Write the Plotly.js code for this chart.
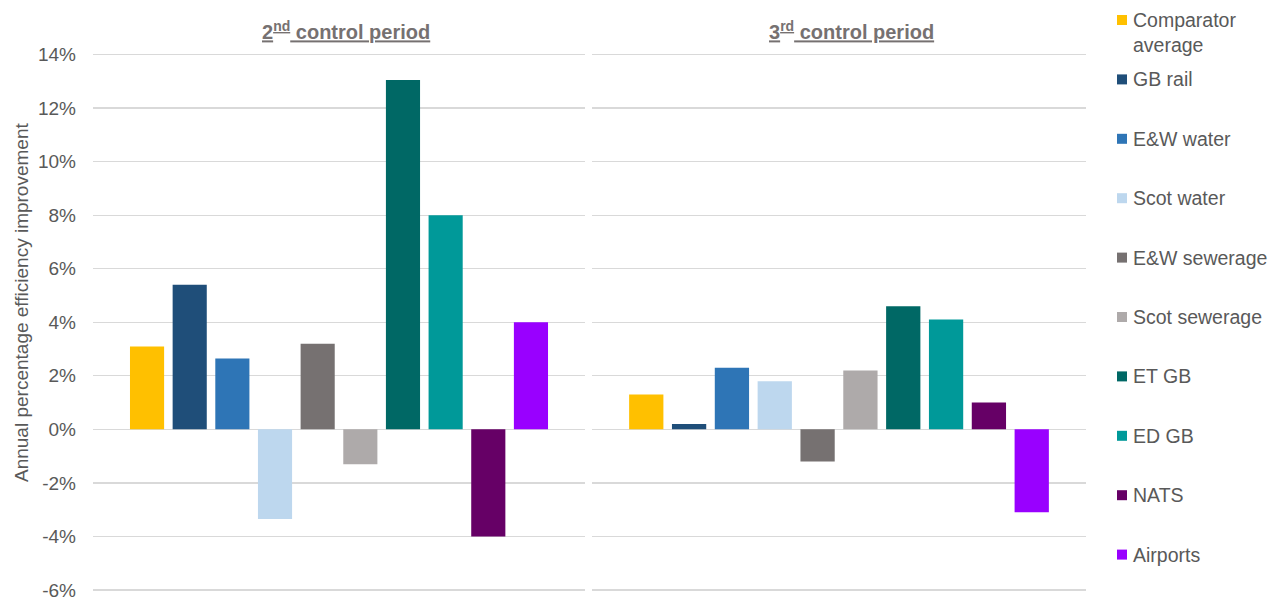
<!DOCTYPE html>
<html>
<head>
<meta charset="utf-8">
<script src="https://cdn.plot.ly/plotly-3.0.1.min.js"></script>
<style>
  html, body { margin: 0; padding: 0; background: #ffffff; }
  #chart { width: 1271px; height: 597px; }
</style>
</head>
<body>
<div id="chart"></div>
<script>
// Control periods shown as two side-by-side panels
const periods = ['2<sup>nd</sup> control period', '3<sup>rd</sup> control period'];

// Comparator series (legend order)
const series = [
  'Comparator<br>average', 'GB rail', 'E&W water', 'Scot water', 'E&W sewerage',
  'Scot sewerage', 'ET GB', 'ED GB', 'NATS', 'Airports'
];

const seriesColors = [
  '#FFC000', '#1F4E79', '#2E75B6', '#BDD7EE', '#767171',
  '#AEAAAA', '#006865', '#009999', '#660066', '#9900FF'
];

// Annual percentage efficiency improvement (%)
const cp2Values = [3.1, 5.4, 2.65, -3.35, 3.2, -1.3, 13.05, 8.0, -4.0, 4.0];
const cp3Values = [1.3, 0.2, 2.3, 1.8, -1.2, 2.2, 4.6, 4.1, 1.0, -3.1];

const yTickValues = [-6, -4, -2, 0, 2, 4, 6, 8, 10, 12, 14];
const yTickLabels = yTickValues.map(v => v + '%');

// ---- page geometry (pixels) ----
const W = 1271, H = 597;
const M = { l: 93, r: 185, t: 52, b: 5 };
const plotW = W - M.l - M.r, plotH = H - M.t - M.b;
const px = x => (x - M.l) / plotW;          // pixel x -> paper x
const py = y => (H - M.b - y) / plotH;      // pixel y -> paper y

const textGrey = '#595959';
const fontFamily = '"Liberation Sans", Arial, sans-serif';

const traces = [];
series.forEach((name, i) => {
  traces.push({
    type: 'bar', name: name, x: [periods[0]], y: [cp2Values[i]],
    xaxis: 'x', yaxis: 'y', marker: { color: seriesColors[i] },
    showlegend: false, hoverinfo: 'name+y'
  });
});
series.forEach((name, i) => {
  traces.push({
    type: 'bar', name: name, x: [periods[1]], y: [cp3Values[i]],
    xaxis: 'x2', yaxis: 'y', marker: { color: seriesColors[i] },
    showlegend: false, hoverinfo: 'name+y'
  });
});

// Panel headings, axis title and the side key
const annotations = [
  {
    xref: 'paper', yref: 'paper', x: px(346), y: py(30),
    xanchor: 'center', yanchor: 'middle', showarrow: false,
    text: '<b><u>' + periods[0] + '</u></b>',
    font: { family: fontFamily, size: 20, color: '#767171' }
  },
  {
    xref: 'paper', yref: 'paper', x: px(851), y: py(30),
    xanchor: 'center', yanchor: 'middle', showarrow: false,
    text: '<b><u>' + periods[1] + '</u></b>',
    font: { family: fontFamily, size: 20, color: '#767171' }
  },
  {
    xref: 'paper', yref: 'paper', x: px(21), y: py(303),
    xanchor: 'center', yanchor: 'middle', showarrow: false, textangle: -90,
    text: 'Annual percentage efficiency improvement',
    font: { family: fontFamily, size: 19, color: textGrey }
  }
];

const shapes = [];
const keyTop = 20, keyStep = 59.4;
series.forEach((name, i) => {
  const cy = keyTop + keyStep * i;
  shapes.push({
    type: 'rect', xref: 'paper', yref: 'paper', layer: 'above',
    x0: px(1117), x1: px(1127), y0: py(cy + 5), y1: py(cy - 5),
    fillcolor: seriesColors[i], line: { width: 0 }
  });
  annotations.push({
    xref: 'paper', yref: 'paper', x: px(1131), y: py(cy - 13),
    xanchor: 'left', yanchor: 'top', align: 'left', showarrow: false,
    text: name,
    font: { family: fontFamily, size: 19.5, color: textGrey }
  });
});

const layout = {
  width: W, height: H,
  margin: M,
  paper_bgcolor: '#ffffff', plot_bgcolor: '#ffffff',
  font: { family: fontFamily, size: 19, color: textGrey },
  barmode: 'group', bargap: 0.133, bargroupgap: 0.2,
  showlegend: false,
  xaxis: {
    domain: [0, px(585)], type: 'category',
    showticklabels: false, showgrid: false, zeroline: false, showline: false, ticks: ''
  },
  xaxis2: {
    domain: [px(592), 1], type: 'category', anchor: 'y',
    showticklabels: false, showgrid: false, zeroline: false, showline: false, ticks: ''
  },
  yaxis: {
    range: [-6.075, 14.097], tickmode: 'array',
    tickvals: yTickValues, ticktext: yTickLabels,
    showgrid: true, gridcolor: '#D9D9D9', gridwidth: 1.3,
    zeroline: true, zerolinecolor: '#D9D9D9', zerolinewidth: 1.3,
    showline: false, ticks: '', ticklabelstandoff: 16, ticklabeloverflow: 'allow',
    tickfont: { family: fontFamily, size: 19, color: textGrey }
  },
  annotations: annotations,
  shapes: shapes
};

Plotly.newPlot('chart', traces, layout, { displayModeBar: false, staticPlot: true });
</script>
</body>
</html>
